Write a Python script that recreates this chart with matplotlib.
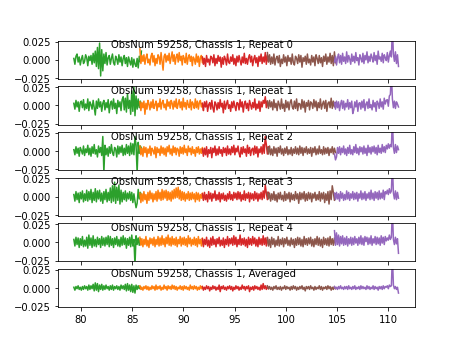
import numpy as np
import matplotlib
matplotlib.use('Agg')
from matplotlib import pyplot as plt

# band edges (GHz) for the five boards
band_edges = [(79.3, 85.9), (85.75, 91.95), (91.85, 98.3), (98.2, 104.85), (104.75, 111.0)]
band_colors = ['tab:green', 'tab:orange', 'tab:red', 'tab:brown', 'tab:purple']
labels = ['Repeat 0', 'Repeat 1', 'Repeat 2', 'Repeat 3', 'Repeat 4', 'Averaged']

# residuals in units of 1e-3, one list per repeat (last one is the average)
green = [
    [2,-6,5,8,-3,4,-7,1,6,-5,-2,7,3,-8,5,-1,6,-6,9,-4,12,-9,17,-12,23,-22,14,-15,8,-5,10,-7,3,6,-6,2,8,-4,-7,5,1,-6,7,-3,4,-8,2,6,-5,3,-9,4,-2,-7,3,-10,1,-6,-9,2,-11,5,-3,12],
    [3,-5,7,-2,5,-8,4,6,-3,8,-6,2,-4,9,-7,5,1,-5,7,-3,-13,6,-4,9,-2,5,-8,3,7,-6,4,-3,8,-10,2,6,-5,9,-4,3,-11,7,-2,5,-7,8,12,-6,10,-9,16,-4,7,-12,20,-8,25,-14,13,-5,9,-3,6,-1],
    [2,-5,6,-3,4,-7,5,1,-4,7,-6,3,-2,8,-5,4,-7,6,-3,9,-4,2,-8,7,-2,5,-6,20,-30,8,-5,4,-7,6,-3,9,-2,-6,5,3,-8,7,-4,6,-2,8,-6,4,-5,9,-3,7,-6,11,-4,10,-5,20,8,-30,12,-3,7,4],
    [3,-6,7,-4,5,-8,6,-3,8,-7,4,-5,9,-6,7,-4,10,-8,6,-5,11,-7,8,-3,9,-6,5,-9,7,-4,10,-7,6,-5,12,-8,15,-6,20,-9,13,-5,16,-10,9,-7,6,-4,8,-6,5,-3,7,-5,6,-8,4,-6,-15,-9,10,-3,6,2],
    [4,-5,7,-3,6,-7,5,-4,8,-6,3,-5,7,-8,10,-4,6,-7,9,-5,4,-6,7,-3,5,-7,8,-4,6,-5,7,-3,9,-6,8,-4,5,-7,6,-3,8,-5,4,-6,7,-4,9,-3,6,-8,5,-4,7,-6,10,-5,4,-32,9,-3,6,-4,5,-2],
    [1,-3,2,-1,3,-2,1,-3,2,-2,3,-1,2,-3,4,-2,3,-1,5,-4,7,-3,6,-5,4,-2,5,-3,3,-2,4,-1,2,-3,3,-2,4,-3,2,-1,3,-2,2,-3,4,-1,3,-2,5,-4,6,-3,4,-5,5,-6,3,-7,4,-2,3,-1,2,-1],
]
orange = [
    [15,-5,6,-2,7,-6,3,8,-4,1,-7,5,9,-3,6,-8,2,-5,7,4,-6,10,-2,-14,5,8,-3,6,-1,9,-5,3,11,-2,7,-6,4,8,-3,10,-1,5,-7,6,2,-4,9,-6,3,7,-2,5,-8,4,1,-6,8,-3,5,-9,3,6,-4,2],
    [5,-7,4,-3,6,-12,3,-5,7,2,-6,5,-3,8,-4,1,6,-7,3,-2,9,-5,4,7,-3,2,-6,8,-1,5,-4,7,3,-5,6,-2,9,-4,2,8,-3,5,-6,10,-2,4,-5,7,1,-3,8,-6,5,2,-4,9,-3,6,-5,4,7,-2,3,-6],
    [7,-5,4,-7,6,-2,5,-8,3,-3,7,-6,4,1,-4,6,-9,5,-2,3,-6,7,-3,5,-5,4,-7,6,-1,8,-4,3,-6,7,-2,5,-5,4,2,-7,6,-3,5,-4,8,-2,3,-6,7,-1,4,-5,6,-3,2,-7,5,-2,6,-4,3,-3,5,-2],
    [5,-8,4,-6,7,-4,3,-9,6,-5,8,-3,5,-7,4,-4,7,-6,9,-3,6,-5,10,-4,8,-2,9,-5,7,-4,6,-6,8,-3,10,-2,12,-1,13,-3,9,-5,7,-4,6,-6,4,-3,7,-5,5,-4,6,-3,4,-7,6,-4,5,-6,3,-2,5,-3],
    [7,-4,5,-6,4,-3,8,-5,3,-7,6,-2,5,-4,7,-6,4,-3,8,-5,6,-4,9,-3,5,-6,7,-2,10,-4,6,-5,8,-3,5,-4,7,-6,4,-2,8,-5,6,-3,7,-4,5,-6,9,-2,6,-5,4,-3,7,-4,5,-6,8,-2,4,-5,6,-3],
    [3,-2,1,-3,2,-1,3,-2,2,-3,1,-2,3,-1,2,-3,4,-2,2,-1,3,-3,1,-2,4,-1,2,-3,3,-1,2,-2,4,-1,3,-2,2,-3,1,-1,3,-2,2,-3,3,-1,2,-2,1,-3,4,-1,2,-2,3,-1,2,-3,1,-2,3,-1,2,-1],
]
red = [
    [4,-6,2,-9,6,-3,1,-7,5,3,-4,7,-8,2,-5,6,-2,4,-10,3,-6,5,1,-7,8,-3,-5,4,-2,7,-6,2,-8,5,-3,6,-1,-7,4,-4,9,-5,2,-6,3,7,-3,5,-8,1,6,-4,3,-9,5,-2,8,-5,4,-3,10,-6,7,-2],
    [3,-7,5,-2,6,-8,1,4,-5,7,-3,-9,5,2,-6,4,-4,8,-2,3,-10,6,-5,2,7,-4,1,-8,5,-3,6,-1,-7,4,3,-6,8,-2,5,-9,2,6,-4,3,-7,7,1,-5,4,-3,9,-6,2,-4,6,-8,5,-2,7,3,12,-3,6,-1],
    [3,-7,4,-5,6,-8,2,-3,5,-9,4,-2,7,-6,3,-5,6,-3,2,-7,5,-2,4,-6,7,-4,3,-5,6,-2,8,-5,4,-1,7,-3,-8,5,-4,6,-2,3,-7,8,-3,5,-6,2,4,-5,7,-3,6,-8,3,-2,6,-4,9,-3,20,9,-4,6],
    [4,-5,6,-4,3,-7,7,-3,5,-6,4,-2,8,-5,3,-4,6,-7,4,-3,5,-5,2,-6,4,-3,7,-4,3,-5,6,-2,5,-4,7,-3,6,-6,3,-4,8,-5,4,-2,6,-7,5,-3,4,-5,7,-3,5,-6,4,-3,6,-4,8,-2,16,5,-4,6],
    [5,-6,4,-3,7,-5,3,-7,6,-4,8,-3,4,-6,5,-2,7,-5,3,-4,6,-7,4,-3,8,-5,5,-2,6,-4,9,-3,7,-6,4,-3,10,-4,5,-3,6,-5,4,-7,7,-3,5,-4,8,-2,6,-5,4,-6,7,-3,5,-4,9,-3,6,-5,7,-2],
    [2,-3,1,-2,3,-1,2,-4,1,-2,3,-1,2,-3,1,-2,4,-5,2,-1,3,-2,1,-3,2,-1,3,-2,2,-4,1,-2,3,-1,2,-3,1,-2,4,-1,2,-3,2,-1,3,-5,1,-2,2,-3,3,-1,2,-2,1,-3,4,-2,6,-1,3,-2,2,-1],
]
brown = [
    [10,-3,7,-6,4,-5,8,-7,2,5,-4,6,-9,1,-5,7,-3,4,-8,6,-2,3,-6,8,-4,-7,5,2,-5,7,-3,6,-10,3,-2,5,-6,8,-4,1,-7,6,-3,4,-8,7,2,-5,6,-4,3,-9,5,-2,8,-6,4,-3,9,-5,6,-8,11,-4],
    [6,-4,7,-2,5,-6,8,-3,3,-7,6,1,-5,9,-4,2,-8,7,-3,5,-6,4,8,-2,-5,6,-4,9,-7,3,2,-5,8,-3,6,-9,4,-1,7,-6,5,3,-4,8,-2,6,-7,4,-3,9,-5,2,6,-4,7,-8,3,5,-3,10,-4,6,-2,4],
    [5,-4,7,-5,3,-6,6,-3,4,-7,5,-2,7,-4,3,-6,4,-3,6,-5,2,-4,5,-6,3,-3,6,-4,4,-5,7,-3,5,-6,4,-2,6,-4,3,-3,5,-7,4,-2,6,-5,3,-4,7,-3,2,-5,6,-4,4,-3,5,-6,3,-2,6,-4,4,-2],
    [6,-3,5,-6,4,-4,7,-5,3,-7,5,-3,6,-4,2,-6,7,-5,4,-3,6,-7,5,-4,3,-5,7,-3,4,-9,6,-4,5,-3,7,-6,4,-5,6,-3,5,-7,4,-2,6,-5,3,-4,7,-6,5,-3,6,-8,4,-5,7,-10,8,-4,15,6,-5,4],
    [6,-5,4,-7,7,-3,5,-6,3,-4,8,-5,4,-3,6,-6,5,-2,7,-4,3,-5,6,-3,4,-7,5,-4,7,-3,6,-5,4,-6,8,-3,5,-4,6,-2,7,-5,4,-6,5,-3,8,-4,6,-5,4,-7,7,-3,5,-4,6,-5,8,-3,5,-4,6,-2],
    [3,-1,2,-2,1,-3,2,-1,3,-2,1,-2,2,-3,1,-1,3,-2,2,-1,1,-3,2,-2,3,-1,2,-3,1,-2,2,-1,3,-2,1,-4,2,-1,2,-2,3,-1,1,-3,2,-2,1,-1,3,-2,2,-3,1,-1,2,-2,3,-1,2,-3,1,-2,2,-1],
]
purple = [
    [-3,5,-7,3,8,-4,6,-6,9,-2,4,-5,11,-3,6,1,-6,8,-2,5,-4,10,-1,3,-7,7,2,-3,9,-5,6,0,11,-4,5,-2,8,3,-3,10,-1,6,-6,12,1,4,-2,9,-4,7,3,-1,10,-3,6,12,4,45,8,-2,11,-5,7,-9],
    [4,-5,6,-3,5,-7,2,7,-4,6,-6,3,-2,8,-5,4,-3,6,-11,-6,5,-2,7,-8,3,4,-5,6,-3,8,-7,2,5,-4,9,-3,1,-6,7,-2,4,-8,6,3,-4,9,-2,5,-5,10,2,7,8,-1,13,15,45,9,-3,6,-4,5,2,-2],
    [-4,-12,-8,5,-3,6,-5,4,-2,7,-4,3,-6,5,-3,8,-4,2,-5,6,-2,9,-3,4,-5,6,-1,5,-4,7,-3,4,-6,8,-2,5,-4,6,-1,7,-3,5,-5,8,-2,4,-3,9,-1,6,-2,8,3,10,4,9,6,45,5,-3,9,-2,7,2],
    [5,-4,6,-3,4,-6,7,-2,5,-5,3,-4,8,-3,6,-5,4,-2,7,-4,5,-3,6,-6,4,-2,8,-4,5,-3,7,-5,4,-2,6,-4,9,-3,5,-5,7,-2,6,-4,8,-3,5,-2,9,-4,7,4,9,3,11,5,8,45,5,-3,8,-4,6,-2],
    [16,-4,13,-3,10,-5,8,-2,9,-4,6,-3,8,-5,5,-2,7,-4,6,-3,8,-1,5,-4,7,-2,9,-3,6,-4,8,1,7,-3,6,-2,9,-4,5,-1,8,-3,7,-2,6,-4,9,-1,7,-3,8,2,6,3,10,4,7,45,4,-3,7,-2,5,-15],
    [2,-1,1,-2,2,-1,3,-1,1,-2,2,-1,2,-2,3,-1,1,-2,2,-1,3,-2,1,-1,2,-2,3,-1,2,-1,1,-2,3,-1,2,-2,1,-1,3,-2,2,-1,1,-3,2,-1,2,-2,3,-1,2,1,3,-1,4,2,3,45,4,-1,2,-2,1,-7],
]

bands = [green, orange, red, brown, purple]

fig, axes = plt.subplots(6, 1, sharex=True, figsize=(6.4, 4.8), dpi=72)

for i, ax in enumerate(axes):
    for (lo, hi), color, vals in zip(band_edges, band_colors, bands):
        y = np.array(vals[i]) * 1e-3
        freq = np.linspace(lo, hi, len(y))
        ax.plot(freq, y, color=color)
    ax.set_ylim(-0.026, 0.026)
    ax.set_yticks([-0.025, 0.0, 0.025])
    ax.text(82.9, 0.0165, 'ObsNum 59258, Chassis 1, ' + labels[i], fontsize=10)

fig.savefig('out.png')
